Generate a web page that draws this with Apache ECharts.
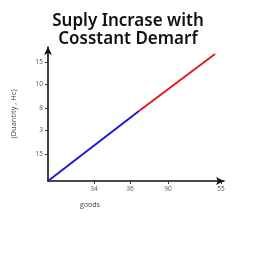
<!DOCTYPE html>
<html><head><meta charset="utf-8">
<script src="https://cdn.jsdelivr.net/npm/echarts@6/dist/echarts.min.js"></script>
<style>html,body{margin:0;padding:0;background:#fff}#c{width:256px;height:256px}</style>
</head><body><div id="c"></div>
<script>
var titleText = 'Suply Incrase with\nCosstant Demarf';
var xName = 'goods';
var yName = '(Duantity , Hc)';
var xTickPos = [26.1, 46.6, 68.2, 98.3];
var xTickLabels = ['34', '36', '90', '55'];
var yTickPos = [20.1, 38.1, 54.5, 72.4, 88.8];
var yTickLabels = ['15', '3', '8', '10', '15'];
var blueX = [0, 51.7];
var blueY = [0, 52.2];
var redX = [51.7, 94.9];
var redY = [52.2, 94.8];

function pairs(xs, ys){ return xs.map(function(x,i){return [x, ys[i]];}); }
function lab(pos, labels){ return function(v){ for (var i=0;i<pos.length;i++){ if (Math.abs(pos[i]-v)<0.01) return labels[i]; } return ''; }; }

var chart = echarts.init(document.getElementById('c'), null, {renderer:'canvas'});
chart.setOption({
  animation:false,
  backgroundColor:'#fff',
  title:{text:titleText,left:'center',top:7,textStyle:{fontFamily:'Noto Sans',fontWeight:600,fontSize:17,lineHeight:18,color:'#111'}},
  grid:{left:48,right:32,top:47,bottom:75,containLabel:false},
  xAxis:{type:'value',min:0,max:100,
    name:xName,nameLocation:'middle',nameGap:20,nameTextStyle:{fontSize:7,color:'#444',fontFamily:'Open Sans',padding:[0,92,0,0]},
    axisLine:{show:true,lineStyle:{color:'#111',width:1.6},symbol:['none','arrow'],symbolSize:[6,8],symbolOffset:[0,0]},
    axisTick:{show:true,customValues:xTickPos,length:3,lineStyle:{color:'#333'}},
    axisLabel:{customValues:xTickPos,formatter:lab(xTickPos,xTickLabels),fontSize:6.5,color:'#555',margin:5,fontFamily:'Open Sans'},
    splitLine:{show:false}},
  yAxis:{type:'value',min:0,max:100,
    name:yName,nameLocation:'middle',nameGap:30,nameRotate:90,nameTextStyle:{fontSize:7.5,color:'#444',fontFamily:'Open Sans'},
    axisLine:{show:true,lineStyle:{color:'#111',width:1.6},symbol:['none','arrow'],symbolSize:[6,8],symbolOffset:[0,0]},
    axisTick:{show:true,customValues:yTickPos,length:3,lineStyle:{color:'#333'}},
    axisLabel:{customValues:yTickPos,formatter:lab(yTickPos,yTickLabels),fontSize:6.5,color:'#555',margin:5,fontFamily:'Open Sans'},
    splitLine:{show:false}},
  series:[
    {type:'line',data:pairs(blueX,blueY),showSymbol:false,lineStyle:{color:'#1c1ccf',width:2},z:3},
    {type:'line',data:pairs(redX,redY),showSymbol:false,lineStyle:{color:'#e01a22',width:2},z:3}
  ]
});
</script></body></html>
